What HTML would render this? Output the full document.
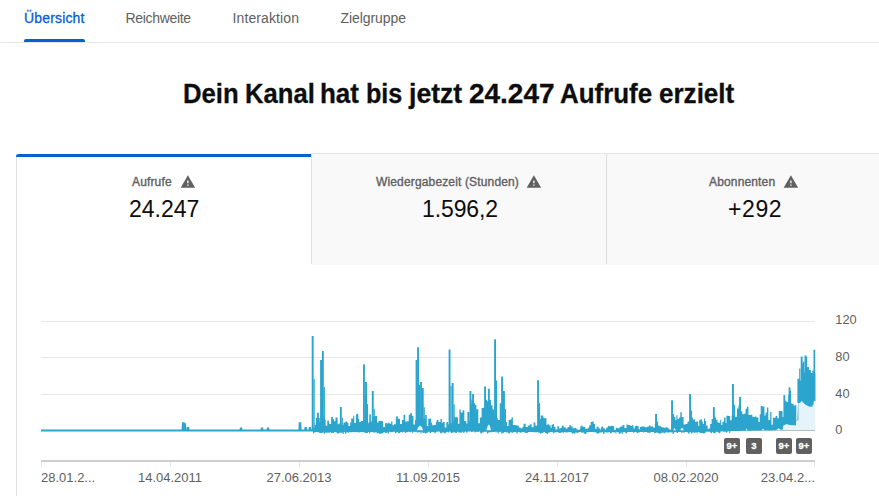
<!DOCTYPE html>
<html><head><meta charset="utf-8">
<style>
html,body{margin:0;padding:0;}
body{width:879px;height:496px;overflow:hidden;background:#fff;position:relative;font-family:"Liberation Sans",sans-serif;}
.a{position:absolute;white-space:nowrap;line-height:1;}
.tab{font-size:14px;color:#606060;top:11.2px;}
.tabsel{-webkit-text-stroke:0.3px #065fd4 !important;}
.tabsel{color:#065fd4;}
.lbl{font-size:12px;font-weight:400;color:#606060;top:175.6px;-webkit-text-stroke:0.35px #606060;letter-spacing:0.15px;}
.val{font-size:23px;color:#0d0d0d;top:197.5px;}
.xl{font-size:13px;color:#606060;top:471px;}
.yl{font-size:12.8px;color:#606060;left:835.3px;}
.tt{top:80px;font-size:28px;font-weight:700;color:#0d0d0d;transform-origin:0 0;-webkit-text-stroke:0.3px #0d0d0d;}
.badge{position:absolute;top:438px;width:16px;height:16px;background:#606060;border-radius:2px;color:#fff;font-size:9.5px;font-weight:700;line-height:16.2px;text-align:center;-webkit-text-stroke:0.3px #fff;letter-spacing:0px;}
</style></head><body>
<!-- tabs -->
<div class="a tab tabsel" style="left:24px;letter-spacing:0.16px">Übersicht</div>
<div class="a tab" style="left:125.5px;letter-spacing:-0.33px">Reichweite</div>
<div class="a tab" style="left:232.5px;letter-spacing:0.11px">Interaktion</div>
<div class="a tab" style="left:340.5px;letter-spacing:-0.07px">Zielgruppe</div>
<div class="a" style="left:24px;top:39px;width:61px;height:3px;background:#065fd4;border-radius:2px 2px 0 0"></div>
<div class="a" style="left:0;top:42px;width:879px;height:1px;background:#e5e5e5"></div>
<!-- title -->
<div class="a tt" style="left:183.2px;transform:scaleX(0.918)">Dein</div>
<div class="a tt" style="left:244.6px;transform:scaleX(0.915)">Kanal</div>
<div class="a tt" style="left:320.1px;transform:scaleX(0.928)">hat</div>
<div class="a tt" style="left:365.8px;transform:scaleX(0.897)">bis</div>
<div class="a tt" style="left:408.7px;transform:scaleX(0.949)">jetzt</div>
<div class="a tt" style="left:468.9px;transform:scaleX(1.0)">24.247</div>
<div class="a tt" style="left:560.2px;transform:scaleX(0.926)">Aufrufe</div>
<div class="a tt" style="left:659.3px;transform:scaleX(0.93)">erzielt</div>
<!-- cards -->
<div class="a" style="left:16px;top:154px;width:1px;height:342px;background:#e0e0e0"></div>
<div class="a" style="left:311px;top:153px;width:568px;height:1px;background:#e5e5e5"></div>
<div class="a" style="left:311px;top:154px;width:568px;height:111px;background:#f9f9f9"></div>
<div class="a" style="left:311px;top:154px;width:1px;height:110px;background:#e0e0e0"></div>
<div class="a" style="left:606px;top:154px;width:1px;height:110px;background:#dcdcdc"></div>
<div class="a" style="left:16px;top:154px;width:295px;height:3px;background:#065fd4;border-radius:3px 0 0 0"></div>

<div class="a lbl" style="left:132px">Aufrufe</div><svg class="a" style="left:180.3px;top:174.4px" width="15.8" height="15.8" viewBox="0 0 24 24"><path fill="#606060" d="M1 21h22L12 2 1 21zm12-3h-2v-2h2v2zm0-4h-2v-4h2v4z"/></svg>
<div class="a val" style="left:129px">24.247</div>
<div class="a lbl" style="left:376px">Wiedergabezeit (Stunden)</div><svg class="a" style="left:526px;top:174.4px" width="15.8" height="15.8" viewBox="0 0 24 24"><path fill="#606060" d="M1 21h22L12 2 1 21zm12-3h-2v-2h2v2zm0-4h-2v-4h2v4z"/></svg>
<div class="a val" style="left:422px;letter-spacing:-0.1px">1.596,2</div>
<div class="a lbl" style="left:709px">Abonnenten</div><svg class="a" style="left:783.4px;top:174.4px" width="15.8" height="15.8" viewBox="0 0 24 24"><path fill="#606060" d="M1 21h22L12 2 1 21zm12-3h-2v-2h2v2zm0-4h-2v-4h2v4z"/></svg>
<div class="a val" style="left:728px;letter-spacing:0.6px">+292</div>

<svg class="a" style="left:0;top:0" width="879" height="496" viewBox="0 0 879 496">
<g stroke="#e8e8e8" stroke-width="1">
<line x1="41" y1="321.5" x2="815" y2="321.5"/>
<line x1="41" y1="357.5" x2="815" y2="357.5"/>
<line x1="41" y1="394.5" x2="815" y2="394.5"/>
</g>
<line x1="41" y1="430.5" x2="815" y2="430.5" stroke="#858585" stroke-width="1"/>
<defs><clipPath id="cp"><rect x="41" y="300" width="774.5" height="140"/></clipPath></defs>
<g clip-path="url(#cp)">
<polygon points="735.0,430.0 760.0,429.0 783.0,429.0 785.0,424.5 790.0,425.5 797.0,426.0 798.3,404.0 802.0,401.0 806.0,404.8 810.0,406.8 813.0,406.8 815.0,400.0 815,430.5 735,430.5" fill="#e6f3fa"/>
<polyline points="41.00,430.5 182.50,430.5 182.90,423.2 183.70,423.2 184.10,430.5 184.20,430.5 184.50,424.2 185.10,424.2 185.40,430.5 187.40,430.5 187.70,428.0 188.30,428.0 188.60,430.5 240.50,430.5 240.75,428.5 241.25,428.5 241.50,430.5 261.50,430.5 261.75,428.5 262.25,428.5 262.50,430.5 267.50,430.5 267.75,428.5 268.25,428.5 268.50,430.5 299.40,430.5 299.70,423.3 300.30,423.3 300.60,430.5 305.20,430.5 305.45,428.0 305.95,428.0 306.20,430.5 309.50,430.5 309.75,428.0 310.25,428.0 310.50,430.5 313.00,430.5" fill="none" stroke="#2ca5ce" stroke-width="2"/>
<polygon points="313.00,428.2 314.43,428.2 314.43,424.7 315.89,424.7 315.89,418.0 316.94,418.0 316.94,412.7 318.85,412.7 318.85,418.1 319.78,418.1 319.78,422.0 320.64,422.0 320.64,413.9 322.35,413.9 322.35,415.4 323.18,415.4 323.18,416.9 324.24,416.9 324.24,420.1 325.69,420.1 325.69,425.8 327.22,425.8 327.22,420.7 328.95,420.7 328.95,424.1 331.14,424.1 331.14,417.1 332.93,417.1 332.93,419.3 334.14,419.3 334.14,421.3 335.50,421.3 335.50,417.4 337.64,417.4 337.64,424.2 338.73,424.2 338.73,423.5 340.91,423.5 340.91,425.4 342.59,425.4 342.59,424.8 343.51,424.8 343.51,422.4 345.37,422.4 345.37,421.7 346.31,421.7 346.31,421.6 347.36,421.6 347.36,422.9 348.43,422.9 348.43,426.0 350.13,426.0 350.13,422.6 351.23,422.6 351.23,418.6 353.15,418.6 353.15,415.8 354.25,415.8 354.25,423.0 355.95,423.0 355.95,414.2 357.04,414.2 357.04,413.8 358.30,413.8 358.30,418.8 359.23,418.8 359.23,421.9 360.87,421.9 360.87,420.9 363.02,420.9 363.02,421.3 365.03,421.3 365.03,419.7 367.10,419.7 367.10,424.1 368.17,424.1 368.17,422.5 369.24,422.5 369.24,414.2 370.89,414.2 370.89,421.8 371.74,421.8 371.74,420.1 373.53,420.1 373.53,416.6 375.16,416.6 375.16,416.0 376.97,416.0 376.97,422.6 378.55,422.6 378.55,421.1 379.75,421.1 379.75,420.9 380.57,420.9 380.57,420.7 381.45,420.7 381.45,421.3 383.05,421.3 383.05,427.1 385.10,427.1 385.10,423.1 386.87,423.1 386.87,423.8 387.72,423.8 387.72,422.8 389.50,422.8 389.50,423.8 391.19,423.8 391.19,421.5 392.44,421.5 392.44,425.2 394.00,425.2 394.00,424.2 395.83,424.2 395.83,416.6 397.91,416.6 397.91,418.7 399.98,418.7 399.98,424.1 401.88,424.1 401.88,419.9 403.56,419.9 403.56,414.7 405.21,414.7 405.21,421.5 407.40,421.5 407.40,421.2 408.74,421.2 408.74,414.8 410.16,414.8 410.16,413.3 412.01,413.3 412.01,416.0 413.48,416.0 413.48,424.4 414.98,424.4 414.98,419.9 416.14,419.9 416.14,419.0 417.89,419.0 417.89,421.5 419.96,421.5 419.96,417.6 422.00,417.6 422.00,416.7 423.08,416.7 423.08,418.8 425.16,418.8 425.16,415.0 426.78,415.0 426.78,426.0 428.27,426.0 428.27,418.7 430.07,418.7 430.07,418.5 431.11,418.5 431.11,422.7 432.21,422.7 432.21,425.2 433.70,425.2 433.70,425.0 435.87,425.0 435.87,422.0 436.72,422.0 436.72,419.9 438.51,419.9 438.51,422.0 440.42,422.0 440.42,419.1 441.85,419.1 441.85,422.7 442.99,422.7 442.99,421.9 444.67,421.9 444.67,427.4 446.38,427.4 446.38,421.9 448.14,421.9 448.14,424.3 449.19,424.3 449.19,422.7 450.99,422.7 450.99,423.7 452.28,423.7 452.28,421.6 453.94,421.6 453.94,417.2 455.85,417.2 455.85,417.3 457.95,417.3 457.95,423.7 459.39,423.7 459.39,409.5 460.71,409.5 460.71,412.4 462.63,412.4 462.63,410.3 464.34,410.3 464.34,421.0 466.29,421.0 466.29,423.5 467.38,423.5 467.38,411.9 469.55,411.9 469.55,421.5 470.80,421.5 470.80,403.8 472.09,403.8 472.09,400.6 473.66,400.6 473.66,405.1 474.50,405.1 474.50,405.0 476.42,405.0 476.42,409.2 478.32,409.2 478.32,423.2 479.85,423.2 479.85,417.4 481.61,417.4 481.61,408.0 483.74,408.0 483.74,407.2 485.28,407.2 485.28,404.8 486.97,404.8 486.97,401.2 488.56,401.2 488.56,400.4 490.54,400.4 490.54,405.2 492.53,405.2 492.53,409.6 494.13,409.6 494.13,415.5 495.64,415.5 495.64,417.9 497.79,417.9 497.79,420.1 499.72,420.1 499.72,403.2 501.48,403.2 501.48,419.4 502.86,419.4 502.86,413.2 504.04,413.2 504.04,425.0 505.45,425.0 505.45,422.1 506.91,422.1 506.91,425.9 508.58,425.9 508.58,419.9 510.47,419.9 510.47,419.2 511.59,419.2 511.59,417.2 512.88,417.2 512.88,425.1 514.71,425.1 514.71,425.3 515.86,425.3 515.86,425.3 517.27,425.3 517.27,425.7 518.81,425.7 518.81,427.4 520.50,427.4 520.50,428.2 522.49,428.2 522.49,426.7 523.61,426.7 523.61,423.7 525.68,423.7 525.68,426.9 527.77,426.9 527.77,425.4 529.81,425.4 529.81,424.3 531.63,424.3 531.63,427.2 533.59,427.2 533.59,422.0 534.57,422.0 534.57,423.1 535.39,423.1 535.39,425.8 537.47,425.8 537.47,425.4 538.98,425.4 538.98,419.0 540.74,419.0 540.74,415.5 541.69,415.5 541.69,415.4 543.21,415.4 543.21,417.7 544.27,417.7 544.27,418.2 546.45,418.2 546.45,425.0 547.34,425.0 547.34,424.3 549.21,424.3 549.21,425.4 550.73,425.4 550.73,428.0 551.55,428.0 551.55,424.9 552.60,424.9 552.60,424.1 553.97,424.1 553.97,426.9 555.49,426.9 555.49,429.5 557.41,429.5 557.41,426.2 559.09,426.2 559.09,428.4 560.60,428.4 560.60,428.1 561.76,428.1 561.76,425.7 563.65,425.7 563.65,427.3 565.70,427.3 565.70,428.4 567.58,428.4 567.58,427.0 569.39,427.0 569.39,424.9 570.85,424.9 570.85,426.2 572.54,426.2 572.54,428.2 574.66,428.2 574.66,428.0 576.39,428.0 576.39,429.2 577.73,429.2 577.73,430.3 579.51,430.3 579.51,429.1 580.35,429.1 580.35,426.3 581.50,426.3 581.50,425.4 582.58,425.4 582.58,426.7 583.73,426.7 583.73,427.0 585.24,427.0 585.24,428.7 587.43,428.7 587.43,428.5 588.34,428.5 588.34,427.5 589.20,427.5 589.20,425.3 590.66,425.3 590.66,421.9 592.32,421.9 592.32,421.4 593.71,421.4 593.71,424.1 595.02,424.1 595.02,428.8 596.61,428.8 596.61,426.8 597.82,426.8 597.82,426.7 598.68,426.7 598.68,428.5 600.03,428.5 600.03,429.4 600.90,429.4 600.90,427.5 601.80,427.5 601.80,426.4 603.27,426.4 603.27,428.3 604.80,428.3 604.80,429.5 606.26,429.5 606.26,427.5 607.90,427.5 607.90,426.0 609.34,426.0 609.34,426.3 610.88,426.3 610.88,425.8 612.61,425.8 612.61,426.2 614.23,426.2 614.23,430.1 615.77,430.1 615.77,427.7 617.60,427.7 617.60,428.3 619.65,428.3 619.65,426.8 620.95,426.8 620.95,426.5 622.54,426.5 622.54,425.0 624.40,425.0 624.40,428.0 626.57,428.0 626.57,423.8 627.42,423.8 627.42,425.0 628.82,425.0 628.82,425.1 630.38,425.1 630.38,425.9 632.13,425.9 632.13,425.3 633.45,425.3 633.45,428.5 634.73,428.5 634.73,426.2 635.63,426.2 635.63,425.8 637.31,425.8 637.31,426.2 638.70,426.2 638.70,429.2 640.02,429.2 640.02,426.9 641.27,426.9 641.27,426.6 643.36,426.6 643.36,426.4 644.30,426.4 644.30,426.8 645.21,426.8 645.21,427.2 646.97,427.2 646.97,426.7 647.88,426.7 647.88,426.7 648.79,426.7 648.79,425.6 650.57,425.6 650.57,426.4 651.87,426.4 651.87,426.2 652.83,426.2 652.83,427.5 654.92,427.5 654.92,423.5 656.33,423.5 656.33,424.9 657.57,424.9 657.57,425.6 659.63,425.6 659.63,426.3 660.94,426.3 660.94,427.0 662.28,427.0 662.28,427.6 664.20,427.6 664.20,427.8 665.79,427.8 665.79,427.2 667.82,427.2 667.82,428.6 669.34,428.6 669.34,429.6 671.49,429.6 671.49,424.2 672.38,424.2 672.38,420.7 673.30,420.7 673.30,417.1 675.36,417.1 675.36,420.1 676.36,420.1 676.36,415.3 677.50,415.3 677.50,419.1 679.03,419.1 679.03,417.5 680.31,417.5 680.31,412.3 681.80,412.3 681.80,416.9 683.59,416.9 683.59,424.5 685.55,424.5 685.55,423.9 687.48,423.9 687.48,421.5 689.62,421.5 689.62,420.4 691.41,420.4 691.41,417.4 692.80,417.4 692.80,419.4 694.99,419.4 694.99,421.9 696.07,421.9 696.07,421.6 698.23,421.6 698.23,426.0 699.19,426.0 699.19,420.2 700.24,420.2 700.24,419.2 701.86,419.2 701.86,421.4 702.81,421.4 702.81,424.0 703.94,424.0 703.94,418.4 705.05,418.4 705.05,421.1 706.10,421.1 706.10,425.4 707.66,425.4 707.66,429.1 708.83,429.1 708.83,428.3 710.11,428.3 710.11,424.0 711.58,424.0 711.58,418.9 713.71,418.9 713.71,416.5 715.25,416.5 715.25,419.8 717.43,419.8 717.43,422.3 718.25,422.3 718.25,422.7 720.17,422.7 720.17,419.7 721.19,419.7 721.19,425.0 722.35,425.0 722.35,421.7 724.04,421.7 724.04,417.4 725.59,417.4 725.59,423.0 726.39,423.0 726.39,415.8 728.34,415.8 728.34,416.0 730.14,416.0 730.14,420.2 731.60,420.2 731.60,415.5 733.60,415.5 733.60,416.3 734.99,416.3 734.99,416.7 736.94,416.7 736.94,408.5 738.48,408.5 738.48,405.3 739.71,405.3 739.71,408.7 740.94,408.7 740.94,411.4 742.25,411.4 742.25,414.2 743.60,414.2 743.60,413.8 745.56,413.8 745.56,408.7 746.89,408.7 746.89,406.8 748.48,406.8 748.48,415.0 750.67,415.0 750.67,414.8 752.33,414.8 752.33,416.8 753.88,416.8 753.88,417.0 755.23,417.0 755.23,416.3 756.31,416.3 756.31,417.4 758.44,417.4 758.44,421.9 759.70,421.9 759.70,414.2 760.70,414.2 760.70,406.0 762.49,406.0 762.49,406.6 764.46,406.6 764.46,415.6 765.58,415.6 765.58,412.4 766.95,412.4 766.95,407.5 768.34,407.5 768.34,420.0 770.22,420.0 770.22,412.1 771.48,412.1 771.48,424.7 772.84,424.7 772.84,417.8 774.75,417.8 774.75,417.8 775.57,417.8 775.57,416.1 777.29,416.1 777.29,418.3 778.80,418.3 778.80,410.9 780.45,410.9 780.45,410.9 782.52,410.9 782.52,417.1 784.02,417.1 784.02,400.8 786.20,400.8 786.20,402.1 788.17,402.1 788.17,394.4 789.85,394.4 789.85,391.0 790.99,391.0 790.99,404.0 792.25,404.0 792.25,403.7 793.70,403.7 793.70,405.8 794.69,405.8 794.69,405.1 796.28,405.1 796.28,420.2 798.35,420.2 798.35,379.9 799.99,379.9 799.99,380.7 801.19,380.7 801.19,364.6 802.80,364.6 802.80,361.5 804.36,361.5 804.36,372.8 805.42,372.8 805.42,356.7 807.14,356.7 807.14,367.1 808.97,367.1 808.97,369.9 810.90,369.9 810.90,373.0 812.35,373.0 812.35,370.6 813.95,370.6 813.95,354.4 815.00,354.4 815.00,400.0 814.00,400.0 813.43,405.3 812.43,405.3 812.58,406.8 811.58,406.8 810.98,406.8 809.98,406.8 810.01,406.8 809.01,406.8 808.05,405.8 807.05,405.8 806.53,405.1 805.53,405.1 805.17,404.0 804.17,404.0 803.88,402.8 802.88,402.8 802.33,401.3 801.33,401.3 800.70,402.1 799.70,402.1 798.99,403.4 797.99,403.4 797.29,420.7 796.29,420.7 795.91,425.4 794.91,425.4 793.91,425.3 792.91,425.3 792.11,425.2 791.11,425.2 790.28,425.0 789.28,425.0 788.99,424.7 787.99,424.7 787.67,424.3 786.67,424.3 786.19,423.9 785.19,423.9 784.30,425.6 783.30,425.6 782.87,429.5 781.87,429.5 781.44,429.8 780.44,429.8 780.12,430.0 779.12,430.0 778.24,430.0 777.24,430.0 777.05,430.1 776.05,430.1 776.19,430.1 775.19,430.1 774.52,430.1 773.52,430.1 772.64,430.2 771.64,430.2 770.96,430.2 769.96,430.2 769.44,430.2 768.44,430.2 767.74,430.3 766.74,430.3 766.57,430.3 765.57,430.3 765.06,430.3 764.06,430.3 764.18,430.4 763.18,430.4 763.23,430.4 762.23,430.4 761.89,430.4 760.89,430.4 760.49,430.4 759.49,430.4 759.21,430.5 758.21,430.5 758.35,430.5 757.35,430.5 756.72,430.5 755.72,430.5 755.29,430.5 754.29,430.5 754.20,430.6 753.20,430.6 753.03,430.6 752.03,430.6 751.76,430.6 750.76,430.6 750.67,430.7 749.67,430.7 749.79,430.7 748.79,430.7 747.90,430.7 746.90,430.7 745.94,430.8 744.94,430.8 744.34,430.8 743.34,430.8 742.50,430.8 741.50,430.8 741.19,430.9 740.19,430.9 739.43,430.9 738.43,430.9 738.36,430.9 737.36,430.9 736.67,431.0 735.67,431.0 735.19,431.0 734.19,431.0 733.30,431.1 732.30,431.1 731.55,431.1 730.55,431.1 730.11,432.9 729.11,432.9 729.30,431.3 728.30,431.3 728.15,431.4 727.15,431.4 727.27,432.8 726.27,432.8 725.49,431.6 724.49,431.6 724.26,432.0 723.26,432.0 723.41,431.3 722.41,431.3 721.53,431.6 720.53,431.6 720.13,433.2 719.13,433.2 718.16,431.9 717.16,431.9 717.11,431.7 716.11,431.7 715.20,433.2 714.20,433.2 714.17,433.0 713.17,433.0 712.95,432.1 711.95,432.1 711.94,433.2 710.94,433.2 709.94,431.8 708.94,431.8 708.39,431.8 707.39,431.8 706.53,431.8 705.53,431.8 705.60,432.9 704.60,432.9 704.43,433.5 703.43,433.5 702.58,432.9 701.58,432.9 701.62,432.9 700.62,432.9 699.70,432.4 698.70,432.4 698.80,432.1 697.80,432.1 697.63,433.0 696.63,433.0 696.60,432.1 695.60,432.1 695.51,432.9 694.51,432.9 693.77,432.3 692.77,432.3 692.17,433.6 691.17,433.6 690.66,432.1 689.66,432.1 689.50,433.7 688.50,433.7 687.90,432.2 686.90,432.2 686.33,432.0 685.33,432.0 684.35,432.4 683.35,432.4 682.92,432.6 681.92,432.6 682.07,432.7 681.07,432.7 680.92,432.1 679.92,432.1 679.16,432.0 678.16,432.0 678.02,433.1 677.02,433.1 676.92,432.2 675.92,432.2 675.47,432.1 674.47,432.1 673.59,434.0 672.59,434.0 672.75,432.4 671.75,432.4 671.05,432.3 670.05,432.3 669.13,432.5 668.13,432.5 668.12,432.6 667.12,432.6 666.54,432.3 665.54,432.3 664.95,433.2 663.95,433.2 663.53,432.5 662.53,432.5 661.72,432.9 660.72,432.9 660.29,433.8 659.29,433.8 659.29,433.2 658.29,433.2 658.29,432.7 657.29,432.7 657.20,432.4 656.20,432.4 655.48,433.2 654.48,433.2 653.73,432.1 652.73,432.1 652.34,432.1 651.34,432.1 650.84,432.5 649.84,432.5 650.00,432.7 649.00,432.7 648.34,432.7 647.34,432.7 646.50,432.1 645.50,432.1 645.51,432.0 644.51,432.0 644.12,432.4 643.12,432.4 642.79,432.1 641.79,432.1 641.03,432.0 640.03,432.0 639.14,432.6 638.14,432.6 637.69,433.3 636.69,433.3 636.60,432.0 635.60,432.0 635.43,432.0 634.43,432.0 634.25,432.8 633.25,432.8 632.82,432.1 631.82,432.1 631.32,432.0 630.32,432.0 629.53,432.1 628.53,432.1 628.43,432.1 627.43,432.1 626.80,433.4 625.80,433.4 625.05,432.0 624.05,432.0 623.76,432.3 622.76,432.3 622.70,433.9 621.70,433.9 621.85,432.5 620.85,432.5 620.14,433.9 619.14,433.9 619.16,432.4 618.16,432.4 617.47,432.0 616.47,432.0 616.38,433.6 615.38,433.6 615.41,432.3 614.41,432.3 614.25,432.4 613.25,432.4 613.36,432.0 612.36,432.0 611.37,433.2 610.37,433.2 609.69,432.1 608.69,432.1 608.58,432.6 607.58,432.6 607.49,432.4 606.49,432.4 605.57,432.3 604.57,432.3 604.37,433.9 603.37,433.9 602.84,432.0 601.84,432.0 601.55,432.8 600.55,432.8 600.68,432.2 599.68,432.2 599.05,433.5 598.05,433.5 597.54,433.6 596.54,433.6 596.18,432.3 595.18,432.3 594.37,432.3 593.37,432.3 592.63,432.1 591.63,432.1 591.42,432.1 590.42,432.1 589.96,432.1 588.96,432.1 588.91,432.1 587.91,432.1 587.55,432.2 586.55,432.2 586.22,434.0 585.22,434.0 584.60,433.5 583.60,433.5 583.56,432.3 582.56,432.3 582.67,433.0 581.67,433.0 581.43,432.2 580.43,432.2 580.61,432.1 579.61,432.1 579.50,432.3 578.50,432.3 577.59,433.0 576.59,433.0 576.47,432.3 575.47,432.3 575.48,433.8 574.48,433.8 574.25,433.2 573.25,433.2 572.58,433.6 571.58,433.6 571.76,432.2 570.76,432.2 570.50,432.0 569.50,432.0 568.64,432.2 567.64,432.2 566.91,432.5 565.91,432.5 566.05,432.3 565.05,432.3 564.96,432.0 563.96,432.0 563.98,432.7 562.98,432.7 563.14,432.2 562.14,432.2 561.83,432.6 560.83,432.6 560.87,433.0 559.87,433.0 559.76,433.1 558.76,433.1 558.16,432.0 557.16,432.0 557.11,432.2 556.11,432.2 555.46,432.3 554.46,432.3 554.19,433.5 553.19,433.5 553.12,432.2 552.12,432.2 551.91,432.1 550.91,432.1 551.06,432.0 550.06,432.0 549.50,432.6 548.50,432.6 547.73,433.9 546.73,433.9 546.57,432.9 545.57,432.9 544.67,432.1 543.67,432.1 543.04,432.9 542.04,432.9 541.10,433.5 540.10,433.5 540.02,432.8 539.02,432.8 539.11,432.4 538.11,432.4 537.84,432.0 536.84,432.0 536.58,432.2 535.58,432.2 535.18,432.2 534.18,432.2 534.19,432.3 533.19,432.3 532.82,432.1 531.82,432.1 531.22,432.1 530.22,432.1 530.31,432.2 529.31,432.2 529.00,432.0 528.00,432.0 527.50,433.0 526.50,433.0 526.04,433.0 525.04,433.0 525.21,432.3 524.21,432.3 523.98,432.0 522.98,432.0 522.69,432.0 521.69,432.0 521.30,432.7 520.30,432.7 519.93,432.2 518.93,432.2 518.83,432.0 517.83,432.0 517.61,433.6 516.61,433.6 516.13,432.1 515.13,432.1 514.53,432.0 513.53,432.0 513.17,432.7 512.17,432.7 511.22,432.2 510.22,432.2 509.73,433.6 508.73,433.6 508.01,432.6 507.01,432.6 506.46,432.2 505.46,432.2 505.16,432.0 504.16,432.0 503.37,433.3 502.37,433.3 502.11,433.4 501.11,433.4 501.26,431.8 500.26,431.8 499.85,431.9 498.85,431.9 498.62,433.6 497.62,433.6 497.64,431.8 496.64,431.8 496.57,432.6 495.57,432.6 495.49,431.7 494.49,431.7 494.03,432.0 493.03,432.0 492.95,432.1 491.95,432.1 491.37,432.2 490.37,432.2 489.82,432.3 488.82,432.3 488.02,433.5 487.02,433.5 486.82,431.8 485.82,431.8 484.96,431.8 483.96,431.8 483.30,432.5 482.30,432.5 481.67,433.4 480.67,433.4 479.88,431.6 478.88,431.6 478.34,432.0 477.34,432.0 476.86,431.8 475.86,431.8 475.72,432.6 474.72,432.6 474.28,431.6 473.28,431.6 473.18,431.7 472.18,431.7 472.16,432.1 471.16,432.1 471.21,431.5 470.21,431.5 470.33,431.6 469.33,431.6 468.69,431.6 467.69,431.6 467.34,432.7 466.34,432.7 465.97,431.6 464.97,431.6 464.13,433.1 463.13,433.1 463.26,431.7 462.26,431.7 461.85,432.8 460.85,432.8 460.58,432.6 459.58,432.6 459.48,432.6 458.48,432.6 458.29,431.8 457.29,431.8 456.58,433.0 455.58,433.0 454.78,432.2 453.78,432.2 453.48,432.6 452.48,432.6 451.93,433.0 450.93,433.0 450.17,431.6 449.17,431.6 448.92,432.5 447.92,432.5 447.84,431.7 446.84,431.7 447.02,432.3 446.02,432.3 445.09,433.5 444.09,433.5 444.13,432.6 443.13,432.6 442.83,432.4 441.83,432.4 441.55,433.4 440.55,433.4 439.57,431.6 438.57,431.6 437.91,431.7 436.91,431.7 437.06,431.8 436.06,431.8 435.38,433.6 434.38,433.6 434.44,431.9 433.44,431.9 433.61,432.3 432.61,432.3 432.23,431.9 431.23,431.9 431.06,433.0 430.06,433.0 429.25,431.8 428.25,431.8 427.98,432.4 426.98,432.4 426.26,433.6 425.26,433.6 425.00,432.7 424.00,432.7 423.54,433.0 422.54,433.0 422.56,431.8 421.56,431.8 421.64,433.5 420.64,433.5 420.53,432.2 419.53,432.2 419.59,431.9 418.59,431.9 418.77,432.4 417.77,432.4 417.79,432.5 416.79,432.5 416.66,431.8 415.66,431.8 415.29,432.0 414.29,432.0 414.17,431.7 413.17,431.7 413.30,433.3 412.30,433.3 412.13,431.8 411.13,431.8 411.11,432.2 410.11,432.2 409.11,431.8 408.11,431.8 407.27,432.2 406.27,432.2 405.97,433.1 404.97,433.1 404.70,431.8 403.70,431.8 403.24,432.6 402.24,432.6 401.69,431.9 400.69,431.9 399.76,433.3 398.76,433.3 397.77,432.2 396.77,432.2 395.97,432.9 394.97,432.9 394.96,431.8 393.96,431.8 393.96,431.8 392.96,431.8 393.07,432.1 392.07,432.1 391.36,432.0 390.36,432.0 389.94,431.8 388.94,431.8 388.89,433.7 387.89,433.7 388.08,432.4 387.08,432.4 386.31,433.1 385.31,433.1 384.62,432.2 383.62,432.2 382.86,433.2 381.86,433.2 381.14,433.8 380.14,433.8 380.22,433.7 379.22,433.7 378.94,432.9 377.94,432.9 377.83,433.5 376.83,433.5 377.01,432.5 376.01,432.5 375.93,432.2 374.93,432.2 374.69,432.7 373.69,432.7 372.92,432.1 371.92,432.1 371.35,432.1 370.35,432.1 370.22,433.5 369.22,433.5 369.03,431.9 368.03,431.9 367.83,433.0 366.83,433.0 366.78,433.0 365.78,433.0 365.32,432.8 364.32,432.8 364.31,431.9 363.31,431.9 363.34,432.2 362.34,432.2 362.02,431.9 361.02,431.9 360.62,432.3 359.62,432.3 359.43,432.5 358.43,432.5 357.49,432.0 356.49,432.0 355.63,432.2 354.63,432.2 353.93,432.0 352.93,432.0 351.94,432.3 350.94,432.3 349.99,432.1 348.99,432.1 348.70,433.0 347.70,433.0 347.68,432.1 346.68,432.1 346.07,433.8 345.07,433.8 344.88,432.0 343.88,432.0 343.65,433.9 342.65,433.9 342.68,432.8 341.68,432.8 341.42,432.8 340.42,432.8 340.37,432.8 339.37,432.8 338.50,433.5 337.50,433.5 336.95,432.5 335.95,432.5 335.47,432.0 334.47,432.0 333.66,433.0 332.66,433.0 332.32,432.9 331.32,432.9 331.02,432.3 330.02,432.3 329.94,432.7 328.94,432.7 328.45,432.5 327.45,432.5 327.61,432.8 326.61,432.8 326.28,432.7 325.28,432.7 324.76,433.7 323.76,433.7 323.78,432.4 322.78,432.4 321.79,433.1 320.79,433.1 320.61,433.1 319.61,433.1 318.63,432.3 317.63,432.3 316.79,432.0 315.79,432.0 314.80,432.5 313.80,432.5 313.72,433.4 313.00,433.4" fill="#2ca5ce"/>

<g fill="#2ca5ce">
<rect x="311.70" y="336.0" width="1.9" height="95.0"/>
<rect x="313.50" y="378.8" width="1.2" height="52.2"/>
<rect x="320.10" y="360.0" width="1.9" height="71.0"/>
<rect x="321.90" y="391.9" width="1.2" height="39.1"/>
<rect x="321.90" y="351.0" width="1.9" height="80.0"/>
<rect x="323.70" y="387.0" width="1.2" height="44.0"/>
<rect x="339.90" y="407.0" width="1.9" height="24.0"/>
<rect x="341.70" y="417.8" width="1.2" height="13.2"/>
<rect x="363.00" y="364.4" width="1.9" height="66.5"/>
<rect x="364.80" y="394.3" width="1.2" height="36.6"/>
<rect x="365.10" y="382.0" width="1.9" height="48.9"/>
<rect x="366.90" y="404.0" width="1.2" height="26.9"/>
<rect x="371.80" y="391.0" width="1.9" height="39.9"/>
<rect x="373.60" y="408.9" width="1.2" height="21.9"/>
<rect x="415.60" y="360.0" width="1.9" height="70.7"/>
<rect x="417.40" y="391.8" width="1.2" height="38.9"/>
<rect x="417.10" y="347.3" width="1.9" height="83.4"/>
<rect x="418.90" y="384.8" width="1.2" height="45.9"/>
<rect x="420.10" y="382.0" width="1.9" height="48.7"/>
<rect x="421.90" y="403.9" width="1.2" height="26.8"/>
<rect x="421.80" y="388.0" width="1.9" height="42.7"/>
<rect x="423.60" y="407.2" width="1.2" height="23.5"/>
<rect x="448.60" y="349.5" width="1.9" height="81.1"/>
<rect x="450.40" y="386.0" width="1.2" height="44.6"/>
<rect x="451.70" y="383.0" width="1.9" height="47.6"/>
<rect x="453.50" y="404.4" width="1.2" height="26.2"/>
<rect x="469.50" y="391.0" width="1.9" height="39.5"/>
<rect x="471.30" y="399.5" width="1.2" height="31.0"/>
<rect x="472.10" y="394.0" width="1.9" height="36.5"/>
<rect x="473.90" y="403.1" width="1.2" height="27.4"/>
<rect x="484.10" y="386.5" width="1.9" height="44.1"/>
<rect x="485.90" y="399.7" width="1.2" height="30.9"/>
<rect x="487.90" y="388.8" width="1.9" height="41.8"/>
<rect x="489.70" y="400.0" width="1.2" height="30.6"/>
<rect x="494.10" y="339.3" width="1.9" height="91.4"/>
<rect x="495.90" y="380.4" width="1.2" height="50.3"/>
<rect x="501.10" y="376.6" width="1.9" height="54.2"/>
<rect x="502.90" y="401.0" width="1.2" height="29.8"/>
<rect x="503.00" y="391.0" width="1.9" height="39.8"/>
<rect x="504.80" y="408.9" width="1.2" height="21.9"/>
<rect x="537.10" y="380.2" width="1.9" height="50.8"/>
<rect x="538.90" y="403.1" width="1.2" height="27.9"/>
<rect x="655.10" y="413.9" width="1.9" height="17.1"/>
<rect x="656.90" y="421.6" width="1.2" height="9.4"/>
<rect x="671.10" y="400.3" width="1.9" height="30.7"/>
<rect x="672.90" y="414.0" width="1.2" height="17.0"/>
<rect x="689.10" y="394.0" width="1.9" height="37.0"/>
<rect x="690.90" y="410.6" width="1.2" height="20.4"/>
<rect x="712.90" y="407.1" width="1.9" height="23.5"/>
<rect x="714.70" y="417.7" width="1.2" height="12.9"/>
<rect x="732.00" y="384.0" width="1.9" height="46.1"/>
<rect x="733.80" y="404.7" width="1.2" height="25.3"/>
<rect x="739.10" y="396.9" width="1.9" height="33.0"/>
<rect x="740.90" y="411.7" width="1.2" height="18.1"/>
<rect x="783.40" y="395.2" width="1.9" height="29.4"/>
<rect x="785.20" y="401.1" width="1.2" height="23.5"/>
<rect x="788.60" y="387.4" width="1.9" height="36.5"/>
<rect x="790.40" y="402.8" width="1.2" height="21.1"/>
<rect x="797.40" y="378.7" width="1.9" height="24.3"/>
<rect x="799.20" y="368.5" width="1.2" height="34.5"/>
<rect x="800.70" y="356.5" width="1.9" height="43.8"/>
<rect x="802.50" y="363.0" width="1.2" height="37.4"/>
<rect x="804.50" y="355.5" width="1.9" height="47.7"/>
<rect x="806.30" y="369.2" width="1.2" height="34.1"/>
<rect x="813.50" y="349.7" width="1.9" height="51.3"/>
<rect x="815.30" y="372.8" width="1.2" height="28.2"/>
</g>
<g fill="#e6f3fa">
<polygon points="416.8,430.2 418.4,427.0 420.0,425.5 421.6,426.7 423.2,430.2"/>
<polygon points="486.5,430.2 487.6,426.0 488.8,424.5 489.9,425.7 491.0,430.2"/>
<polygon points="673.0,430.2 673.8,429.3 674.5,427.8 675.2,429.0 676.0,430.2"/>
<polygon points="680.0,430.2 681.0,429.0 682.0,427.5 683.0,428.7 684.0,430.2"/>
<polygon points="745.0,430.2 745.8,430.0 746.5,428.5 747.2,429.7 748.0,430.2"/>
<polygon points="761.0,430.2 762.0,430.0 763.0,428.5 764.0,429.7 765.0,430.2"/>
<polygon points="776.0,430.2 777.2,429.5 778.5,428.0 779.8,429.2 781.0,430.2"/>
</g>
</g>
<line x1="41" y1="461" x2="815" y2="461" stroke="#cfcfcf" stroke-width="2"/>
<g stroke="#e8e8e8" stroke-width="1">
<line x1="170.5" y1="462" x2="170.5" y2="467"/>
<line x1="299.5" y1="462" x2="299.5" y2="467"/>
<line x1="428.5" y1="462" x2="428.5" y2="467"/>
<line x1="557.5" y1="462" x2="557.5" y2="467"/>
<line x1="686.5" y1="462" x2="686.5" y2="467"/>
<line x1="814.5" y1="462" x2="814.5" y2="467"/>
<line x1="41.5" y1="462" x2="41.5" y2="467"/>
</g>
</svg>
<div class="a xl" style="left:41px">28.01.2...</div>
<div class="a xl" style="left:120px;width:100px;text-align:center">14.04.2011</div>
<div class="a xl" style="left:249px;width:100px;text-align:center">27.06.2013</div>
<div class="a xl" style="left:378px;width:100px;text-align:center">11.09.2015</div>
<div class="a xl" style="left:507px;width:100px;text-align:center">24.11.2017</div>
<div class="a xl" style="left:636px;width:100px;text-align:center">08.02.2020</div>
<div class="a xl" style="left:715px;width:100px;text-align:right">23.04.2...</div>
<div class="a yl" style="top:314px">120</div>
<div class="a yl" style="top:350.5px">80</div>
<div class="a yl" style="top:387.5px">40</div>
<div class="a yl" style="top:423.8px">0</div>
<div class="badge" style="left:724px">9+</div>
<div class="badge" style="left:746px">3</div>
<div class="badge" style="left:776px">9+</div>
<div class="badge" style="left:796px">9+</div>

</body></html>
